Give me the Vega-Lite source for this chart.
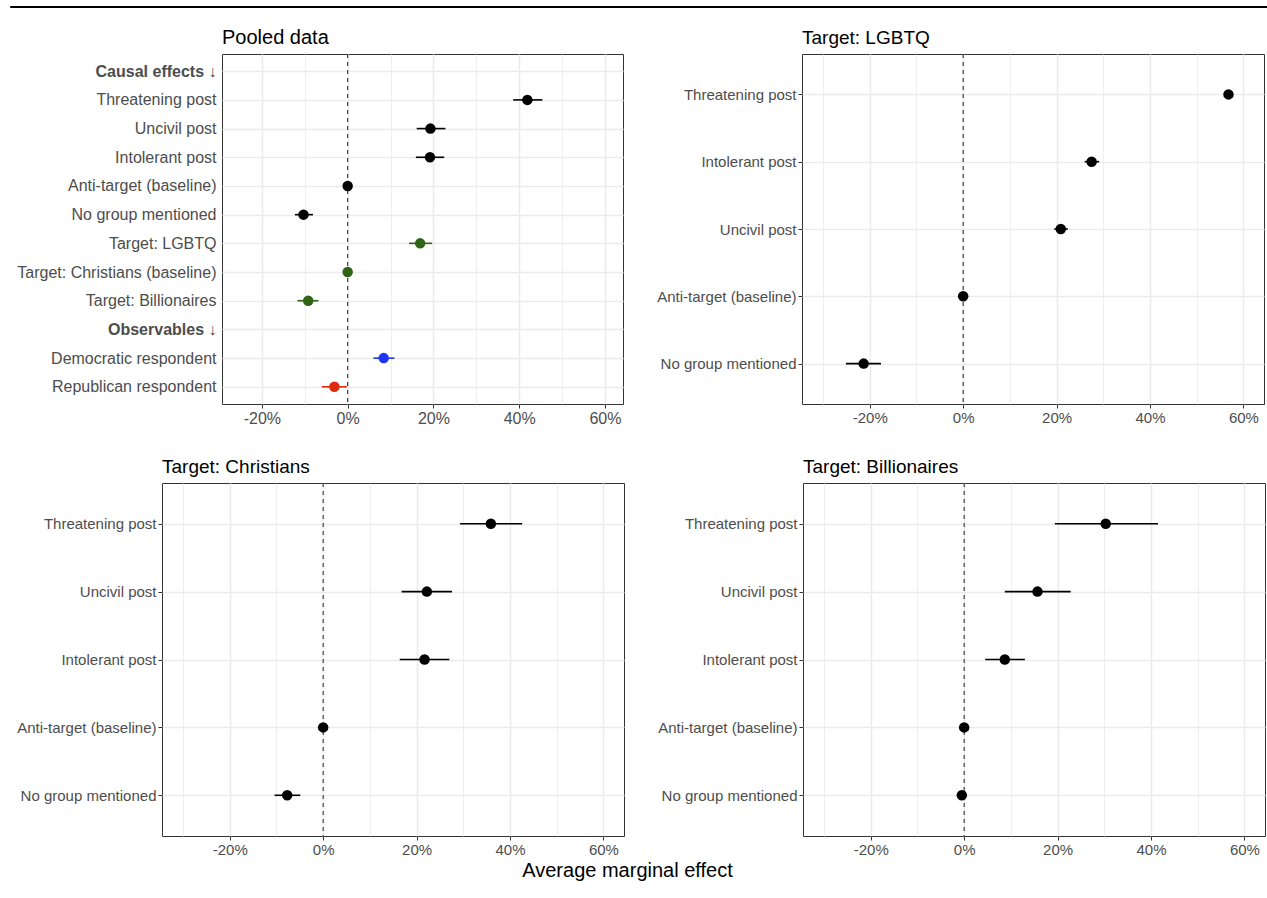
{
  "$schema": "https://vega.github.io/schema/vega-lite/v6.json",
  "padding": {"left": 9, "top": 5, "right": 0, "bottom": 5},
  "background": "white",
  "config": {
    "font": "Liberation Sans",
    "view": {"stroke": "#333333", "strokeWidth": 1},
    "axis": {
      "labelFont": "Liberation Sans",
      "labelFontSize": 15,
      "labelColor": "#4D4D4D",
      "labelLimit": 400,
      "domain": false,
      "tickColor": "#333333",
      "tickSize": 4,
      "tickWidth": 1,
      "labelPadding": 2,
      "gridColor": "#EBEBEB",
      "gridWidth": 1.5
    },
    "title": {"anchor": "start", "frame": "group", "fontSize": 19, "fontWeight": "normal", "color": "black", "font": "Liberation Sans", "baseline": "alphabetic", "offset": 5}
  },
  "datasets": {
    "ame": [
      {"panel": "Pooled", "term": "Threatening post", "est": 0.419, "lo": 0.386, "hi": 0.454, "grp": "k"},
      {"panel": "Pooled", "term": "Uncivil post", "est": 0.193, "lo": 0.161, "hi": 0.228, "grp": "k"},
      {"panel": "Pooled", "term": "Intolerant post", "est": 0.192, "lo": 0.159, "hi": 0.225, "grp": "k"},
      {"panel": "Pooled", "term": "Anti-target (baseline)", "est": 0, "lo": 0, "hi": 0, "grp": "k"},
      {"panel": "Pooled", "term": "No group mentioned", "est": -0.103, "lo": -0.123, "hi": -0.081, "grp": "k"},
      {"panel": "Pooled", "term": "Target: LGBTQ", "est": 0.169, "lo": 0.143, "hi": 0.197, "grp": "g"},
      {"panel": "Pooled", "term": "Target: Christians (baseline)", "est": 0, "lo": 0, "hi": 0, "grp": "g"},
      {"panel": "Pooled", "term": "Target: Billionaires", "est": -0.092, "lo": -0.117, "hi": -0.068, "grp": "g"},
      {"panel": "Pooled", "term": "Democratic respondent", "est": 0.084, "lo": 0.060, "hi": 0.109, "grp": "b"},
      {"panel": "Pooled", "term": "Republican respondent", "est": -0.031, "lo": -0.060, "hi": -0.002, "grp": "r"},
      {"panel": "LGBTQ", "term": "Threatening post", "est": 0.568, "lo": 0.560, "hi": 0.576, "grp": "k"},
      {"panel": "LGBTQ", "term": "Intolerant post", "est": 0.275, "lo": 0.260, "hi": 0.291, "grp": "k"},
      {"panel": "LGBTQ", "term": "Uncivil post", "est": 0.209, "lo": 0.195, "hi": 0.224, "grp": "k"},
      {"panel": "LGBTQ", "term": "Anti-target (baseline)", "est": 0, "lo": 0, "hi": 0, "grp": "k"},
      {"panel": "LGBTQ", "term": "No group mentioned", "est": -0.213, "lo": -0.251, "hi": -0.176, "grp": "k"},
      {"panel": "Christians", "term": "Threatening post", "est": 0.359, "lo": 0.293, "hi": 0.426, "grp": "k"},
      {"panel": "Christians", "term": "Uncivil post", "est": 0.222, "lo": 0.168, "hi": 0.276, "grp": "k"},
      {"panel": "Christians", "term": "Intolerant post", "est": 0.217, "lo": 0.164, "hi": 0.270, "grp": "k"},
      {"panel": "Christians", "term": "Anti-target (baseline)", "est": 0, "lo": 0, "hi": 0, "grp": "k"},
      {"panel": "Christians", "term": "No group mentioned", "est": -0.077, "lo": -0.104, "hi": -0.049, "grp": "k"},
      {"panel": "Billionaires", "term": "Threatening post", "est": 0.303, "lo": 0.194, "hi": 0.415, "grp": "k"},
      {"panel": "Billionaires", "term": "Uncivil post", "est": 0.157, "lo": 0.087, "hi": 0.228, "grp": "k"},
      {"panel": "Billionaires", "term": "Intolerant post", "est": 0.087, "lo": 0.045, "hi": 0.130, "grp": "k"},
      {"panel": "Billionaires", "term": "Anti-target (baseline)", "est": 0, "lo": 0, "hi": 0, "grp": "k"},
      {"panel": "Billionaires", "term": "No group mentioned", "est": -0.005, "lo": -0.010, "hi": 0.000, "grp": "k"}
    ]
  },
  "title": {"text": "Average marginal effect", "orient": "bottom", "anchor": "middle", "frame": "bounds", "baseline": "top", "offset": 3, "dx": -11, "fontSize": 20, "fontWeight": "normal", "color": "black", "font": "Liberation Sans"},
  "spacing": 19,
  "align": "none",
  "bounds": "full",
  "vconcat": [
    {"width": 1257, "height": 1, "data": {"values": []}, "mark": "point", "encoding": {}, "view": {"fill": "black", "stroke": "black", "strokeWidth": 1}},
    {
      "spacing": 30,
      "align": "none",
      "bounds": "full",
      "vconcat": [
        {
          "spacing": 5,
          "align": "none",
          "bounds": "full",
          "hconcat": [
            {"width": 1, "height": 1, "data": {"values": []}, "mark": "point", "encoding": {}, "view": {"stroke": null, "fill": null}},
            {
              "title": {"text": "Pooled data", "fontSize": 20},
              "width": 401,
              "height": 350,
              "layer": [
                {
                  "data": {"values": [{"z": 0}]},
                  "mark": {"type": "rule", "color": "#333333", "strokeDash": [4, 4], "strokeWidth": 1.1},
                  "encoding": {"x": {"field": "z", "type": "quantitative", "scale": {"domain": [-0.293, 0.642], "zero": false, "nice": false}, "axis": {"title": null, "labelFontSize": 16, "values": [-0.2, -0.1, 0, 0.1, 0.2, 0.3, 0.4, 0.5, 0.6], "labelExpr": "abs(round(datum.value*10)) % 2 == 0 ? round(datum.value*100) + '%' : ''", "tickOpacity": {"condition": {"test": "abs(round(datum.value*10)) % 2 == 1", "value": 0}, "value": 1}, "gridWidth": {"condition": {"test": "abs(round(datum.value*10)) % 2 == 1", "value": 0.8}, "value": 1.5}}}}
                },
                {
                  "data": {"name": "ame"},
                  "transform": [{"filter": "datum.panel === 'Pooled'"}],
                  "mark": {"type": "rule", "strokeWidth": 1.6},
                  "encoding": {
                    "x": {"field": "lo", "type": "quantitative", "scale": {"domain": [-0.293, 0.642], "zero": false, "nice": false}},
                    "x2": {"field": "hi"},
                    "y": {"field": "term", "type": "ordinal", "scale": {"type": "point", "padding": 0.6, "domain": ["Causal effects ↓", "Threatening post", "Uncivil post", "Intolerant post", "Anti-target (baseline)", "No group mentioned", "Target: LGBTQ", "Target: Christians (baseline)", "Target: Billionaires", "Observables ↓", "Democratic respondent", "Republican respondent"]}, "axis": {"title": null, "grid": true, "ticks": false, "labelPadding": 6, "labelFontSize": 16, "labelFontWeight": {"condition": {"test": "indexof(datum.label, '↓') >= 0", "value": "bold"}, "value": "normal"}}},
                    "color": {"field": "grp", "type": "nominal", "scale": {"domain": ["k", "g", "b", "r"], "range": ["black", "#2E6414", "#1F35F5", "#E0280C"]}, "legend": null}
                  }
                },
                {
                  "data": {"name": "ame"},
                  "transform": [{"filter": "datum.panel === 'Pooled'"}],
                  "mark": {"type": "point", "filled": true, "size": 110, "opacity": 1},
                  "encoding": {
                    "x": {"field": "est", "type": "quantitative", "scale": {"domain": [-0.293, 0.642], "zero": false, "nice": false}},
                    "y": {"field": "term", "type": "ordinal"},
                    "color": {"field": "grp", "type": "nominal", "legend": null}
                  }
                }
              ]
            },
            {"width": 22, "height": 1, "data": {"values": []}, "mark": "point", "encoding": {}, "view": {"stroke": null, "fill": null}},
            {
              "title": {"text": "Target: LGBTQ"},
              "width": 462,
              "height": 350,
              "layer": [
                {
                  "data": {"values": [{"z": 0}]},
                  "mark": {"type": "rule", "color": "#333333", "strokeDash": [4, 4], "strokeWidth": 1.1},
                  "encoding": {"x": {"field": "z", "type": "quantitative", "scale": {"domain": [-0.345, 0.644], "zero": false, "nice": false}, "axis": {"title": null, "values": [-0.3, -0.2, -0.1, 0, 0.1, 0.2, 0.3, 0.4, 0.5, 0.6], "labelExpr": "abs(round(datum.value*10)) % 2 == 0 ? round(datum.value*100) + '%' : ''", "tickOpacity": {"condition": {"test": "abs(round(datum.value*10)) % 2 == 1", "value": 0}, "value": 1}, "gridWidth": {"condition": {"test": "abs(round(datum.value*10)) % 2 == 1", "value": 0.8}, "value": 1.5}}}}
                },
                {
                  "data": {"name": "ame"},
                  "transform": [{"filter": "datum.panel === 'LGBTQ'"}],
                  "mark": {"type": "rule", "strokeWidth": 1.6, "color": "black"},
                  "encoding": {
                    "x": {"field": "lo", "type": "quantitative", "scale": {"domain": [-0.345, 0.644], "zero": false, "nice": false}},
                    "x2": {"field": "hi"},
                    "y": {"field": "term", "type": "ordinal", "scale": {"type": "point", "padding": 0.6, "domain": ["Threatening post", "Intolerant post", "Uncivil post", "Anti-target (baseline)", "No group mentioned"]}, "axis": {"title": null, "grid": true}}
                  }
                },
                {
                  "data": {"name": "ame"},
                  "transform": [{"filter": "datum.panel === 'LGBTQ'"}],
                  "mark": {"type": "point", "filled": true, "size": 110, "opacity": 1, "color": "black"},
                  "encoding": {
                    "x": {"field": "est", "type": "quantitative", "scale": {"domain": [-0.345, 0.644], "zero": false, "nice": false}},
                    "y": {"field": "term", "type": "ordinal"}
                  }
                }
              ]
            }
          ]
        },
        {
          "spacing": 5,
          "align": "none",
          "bounds": "full",
          "hconcat": [
            {"width": 1, "height": 1, "data": {"values": []}, "mark": "point", "encoding": {}, "view": {"stroke": null, "fill": null}},
            {
              "title": {"text": "Target: Christians"},
              "width": 462,
              "height": 353,
              "layer": [
                {
                  "data": {"values": [{"z": 0}]},
                  "mark": {"type": "rule", "color": "#333333", "strokeDash": [4, 4], "strokeWidth": 1.1},
                  "encoding": {"x": {"field": "z", "type": "quantitative", "scale": {"domain": [-0.345, 0.644], "zero": false, "nice": false}, "axis": {"title": null, "values": [-0.3, -0.2, -0.1, 0, 0.1, 0.2, 0.3, 0.4, 0.5, 0.6], "labelExpr": "abs(round(datum.value*10)) % 2 == 0 ? round(datum.value*100) + '%' : ''", "tickOpacity": {"condition": {"test": "abs(round(datum.value*10)) % 2 == 1", "value": 0}, "value": 1}, "gridWidth": {"condition": {"test": "abs(round(datum.value*10)) % 2 == 1", "value": 0.8}, "value": 1.5}}}}
                },
                {
                  "data": {"name": "ame"},
                  "transform": [{"filter": "datum.panel === 'Christians'"}],
                  "mark": {"type": "rule", "strokeWidth": 1.6, "color": "black"},
                  "encoding": {
                    "x": {"field": "lo", "type": "quantitative", "scale": {"domain": [-0.345, 0.644], "zero": false, "nice": false}},
                    "x2": {"field": "hi"},
                    "y": {"field": "term", "type": "ordinal", "scale": {"type": "point", "padding": 0.6, "domain": ["Threatening post", "Uncivil post", "Intolerant post", "Anti-target (baseline)", "No group mentioned"]}, "axis": {"title": null, "grid": true}}
                  }
                },
                {
                  "data": {"name": "ame"},
                  "transform": [{"filter": "datum.panel === 'Christians'"}],
                  "mark": {"type": "point", "filled": true, "size": 110, "opacity": 1, "color": "black"},
                  "encoding": {
                    "x": {"field": "est", "type": "quantitative", "scale": {"domain": [-0.345, 0.644], "zero": false, "nice": false}},
                    "y": {"field": "term", "type": "ordinal"}
                  }
                }
              ]
            },
            {"width": 22, "height": 1, "data": {"values": []}, "mark": "point", "encoding": {}, "view": {"stroke": null, "fill": null}},
            {
              "title": {"text": "Target: Billionaires"},
              "width": 462,
              "height": 353,
              "layer": [
                {
                  "data": {"values": [{"z": 0}]},
                  "mark": {"type": "rule", "color": "#333333", "strokeDash": [4, 4], "strokeWidth": 1.1},
                  "encoding": {"x": {"field": "z", "type": "quantitative", "scale": {"domain": [-0.345, 0.644], "zero": false, "nice": false}, "axis": {"title": null, "values": [-0.3, -0.2, -0.1, 0, 0.1, 0.2, 0.3, 0.4, 0.5, 0.6], "labelExpr": "abs(round(datum.value*10)) % 2 == 0 ? round(datum.value*100) + '%' : ''", "tickOpacity": {"condition": {"test": "abs(round(datum.value*10)) % 2 == 1", "value": 0}, "value": 1}, "gridWidth": {"condition": {"test": "abs(round(datum.value*10)) % 2 == 1", "value": 0.8}, "value": 1.5}}}}
                },
                {
                  "data": {"name": "ame"},
                  "transform": [{"filter": "datum.panel === 'Billionaires'"}],
                  "mark": {"type": "rule", "strokeWidth": 1.6, "color": "black"},
                  "encoding": {
                    "x": {"field": "lo", "type": "quantitative", "scale": {"domain": [-0.345, 0.644], "zero": false, "nice": false}},
                    "x2": {"field": "hi"},
                    "y": {"field": "term", "type": "ordinal", "scale": {"type": "point", "padding": 0.6, "domain": ["Threatening post", "Uncivil post", "Intolerant post", "Anti-target (baseline)", "No group mentioned"]}, "axis": {"title": null, "grid": true}}
                  }
                },
                {
                  "data": {"name": "ame"},
                  "transform": [{"filter": "datum.panel === 'Billionaires'"}],
                  "mark": {"type": "point", "filled": true, "size": 110, "opacity": 1, "color": "black"},
                  "encoding": {
                    "x": {"field": "est", "type": "quantitative", "scale": {"domain": [-0.345, 0.644], "zero": false, "nice": false}},
                    "y": {"field": "term", "type": "ordinal"}
                  }
                }
              ]
            }
          ]
        }
      ]
    }
  ]
}
